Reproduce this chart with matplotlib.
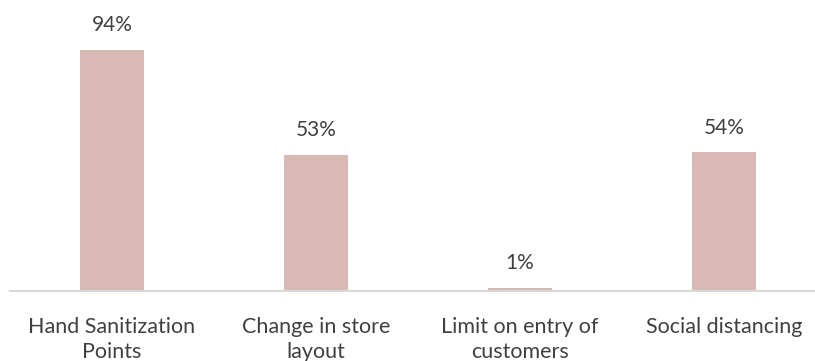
import matplotlib
matplotlib.use("Agg")
import matplotlib.pyplot as plt

categories = ["Hand Sanitization\nPoints", "Change in store\nlayout", "Limit on entry of\ncustomers", "Social distancing"]
values = [94, 53, 1, 54]
labels = ["94%", "53%", "1%", "54%"]

plt.rcParams['font.family'] = ['Lato', 'DejaVu Sans']
W, H = 815, 361
fig = plt.figure(figsize=(W/100, H/100), dpi=100)
left = 10 / W
bottom = (H - 290.5) / H
height = 256 / H
ax = fig.add_axes([left, bottom, 1 - left, height])
x = list(range(len(categories)))
ax.bar(x, values, width=64/204, color="#D8B9B4", zorder=2)
ax.set_xlim(-0.5, 3.5 - 11/204)
ax.set_ylim(0, 100)
for xi, v, lab in zip(x, values, labels):
    ax.annotate(lab, (xi, v), xytext=(0, 10.5), textcoords="offset points",
                ha="center", va="bottom", fontsize=15, color="#404040",
                annotation_clip=False)
for s in ["top", "right", "left"]:
    ax.spines[s].set_visible(False)
ax.spines["bottom"].set_color("#D9D9D9")
ax.spines["bottom"].set_linewidth(1.5)
ax.set_yticks([])
ax.set_xticks(x)
ax.set_xticklabels(categories, fontsize=15.5, color="#404040", linespacing=1.3)
ax.tick_params(axis="x", length=0, pad=19)
fig.savefig("out.png", dpi=100)
